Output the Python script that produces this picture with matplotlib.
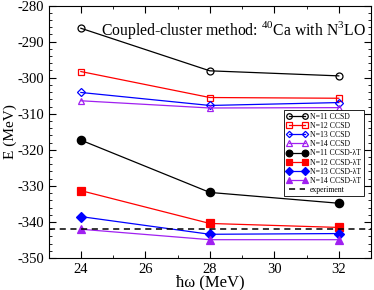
import numpy as np
import matplotlib.pyplot as plt
from matplotlib.ticker import MultipleLocator

plt.rcParams['font.family'] = ['Liberation Serif', 'DejaVu Serif']
plt.rcParams['mathtext.fontset'] = 'custom'
plt.rcParams['mathtext.rm'] = 'Liberation Serif'
plt.rcParams['axes.unicode_minus'] = False

hw = [24, 28, 32]
labels = ['N=11 CCSD', 'N=12 CCSD', 'N=13 CCSD', 'N=14 CCSD',
          'N=11 CCSD-\u03bbT', 'N=12 CCSD-\u03bbT', 'N=13 CCSD-\u03bbT', 'N=14 CCSD-\u03bbT']
ccsd = [[-286.3, -298.1, -299.5],
        [-298.3, -305.5, -305.7],
        [-304.1, -307.7, -306.9],
        [-306.4, -308.4, -308.3]]
ccsd_lt = [[-317.3, -331.8, -334.8],
           [-331.3, -340.4, -341.5],
           [-338.5, -343.4, -343.2],
           [-342.0, -344.9, -344.9]]
experiment = -342.0

colors = ['black', 'red', 'blue', '#a020f0']
markers = ['o', 's', 'D', '^']
msizes = [5, 5, 4, 5]

fig = plt.figure(figsize=(3.74, 2.90), dpi=100)
ax = fig.add_axes([0.13, 0.11, 0.862, 0.871])

for i in range(4):
    ax.plot(hw, ccsd[i], color=colors[i], marker=markers[i], ms=msizes[i],
            mfc='none', mew=0.9, lw=0.9, label=labels[i])
for i in range(4):
    ax.plot(hw, ccsd_lt[i], color=colors[i], marker=markers[i], ms=msizes[i] + 1,
            mew=0.9, lw=0.9, label=labels[i + 4])
ax.axhline(experiment, color='black', ls=(0, (4, 3)), lw=1.1, label='experiment')

ax.set_xlim(23, 33)
ax.set_ylim(-350, -280)
ax.xaxis.set_major_locator(MultipleLocator(2))
ax.xaxis.set_minor_locator(MultipleLocator(1))
ax.yaxis.set_major_locator(MultipleLocator(10))
ax.yaxis.set_minor_locator(MultipleLocator(2))
ax.tick_params(which='both', direction='in', top=True, right=True, labelsize=10.5)
ax.tick_params(which='major', length=5)
ax.tick_params(which='minor', length=2.5)
ax.set_xlabel('\u0127\u03c9 (MeV)', fontsize=12, labelpad=-1)
ax.set_ylabel('E (MeV)', fontsize=11, labelpad=0)

ax.text(0.985, 0.945, r'Coupled-cluster method: $^{40}$Ca with N$^{3}$LO',
        transform=ax.transAxes, ha='right', va='top', fontsize=11.3)

leg = ax.legend(loc='upper right', bbox_to_anchor=(0.977, 0.585), fontsize=5.6,
                fancybox=False, edgecolor='black', framealpha=1, handlelength=2.6,
                numpoints=2, markerscale=0.8, labelspacing=0.15, borderpad=0.3,
                handletextpad=0.4, borderaxespad=0)
leg.get_frame().set_linewidth(0.6)

fig.savefig('out.png', dpi=100)
